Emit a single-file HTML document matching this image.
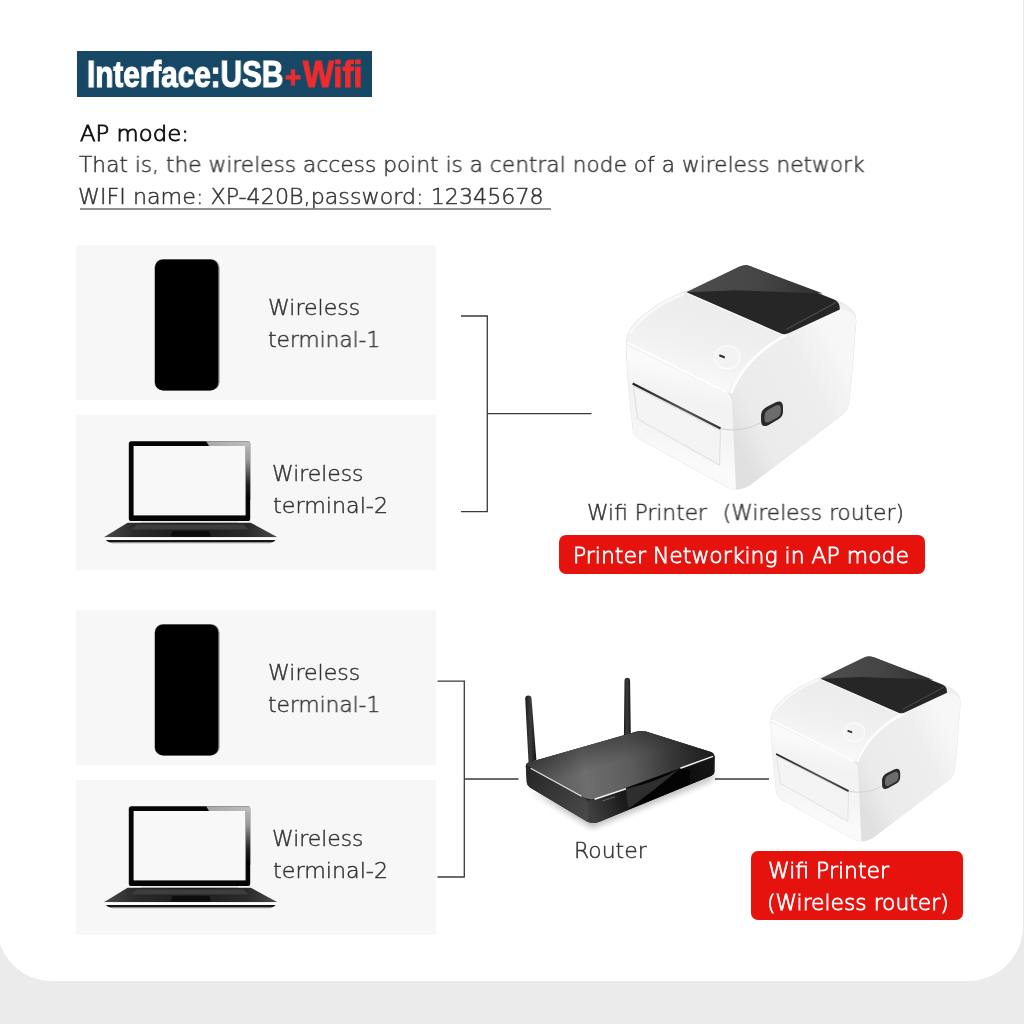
<!DOCTYPE html>
<html lang="en">
<head>
<meta charset="utf-8">
<title>Interface: USB + Wifi</title>
<style>
html,body{margin:0;padding:0;}
body{width:1024px;height:1024px;overflow:hidden;background:#ebebeb;font-family:"DejaVu Sans","Liberation Sans",sans-serif;}
#page{position:relative;width:1024px;height:1024px;overflow:hidden;background:#ebebeb;}
#card{position:absolute;left:-3px;top:-60px;width:1025.5px;height:1041px;background:#fff;border-radius:0 0 55px 55px;}
#edge{position:absolute;left:1022.6px;top:25px;width:2px;height:910px;background:#ebebeb;}
.abs{position:absolute;}
.t{will-change:transform;position:absolute;white-space:nowrap;line-height:1;transform-origin:0 0;font-weight:200;}
#banner{position:absolute;left:77px;top:51px;width:295px;height:46px;background:#164866;}
.box{position:absolute;left:76px;width:360px;height:155px;background:#f7f7f7;}
.red{position:absolute;background:#e6120e;border-radius:7px;}
svg{position:absolute;left:0;top:0;overflow:visible;}
</style>
</head>
<body>
<div id="page">
<div id="card"></div>
<div id="edge"></div>

<div id="banner"></div>

<div class="abs" id="ul" style="left:80px;top:207.5px;width:471.3px;height:2px;background:#909090;"></div>

<div class="box" style="top:245px"></div>
<div class="box" style="top:415px"></div>
<div class="box" style="top:610px"></div>
<div class="box" style="top:780px"></div>


<div class="red" style="left:558.5px;top:535px;width:366.5px;height:38.5px;"></div>

<div class="red" style="left:750.5px;top:850.5px;width:212px;height:69px;"></div>

<div class="t" id="t1" style="left:86.86px;top:57.14px;font-size:36px;font-family:'Liberation Sans',sans-serif;font-weight:bold;color:#fff;-webkit-text-stroke:1.2px #fff;transform:scaleX(0.8247);">Interface:USB</div>
<div class="t" id="t1b" style="left:285.32px;top:57.14px;font-size:36px;font-family:'Liberation Sans',sans-serif;font-weight:bold;color:#ee2b2d;-webkit-text-stroke:1.2px #ee2b2d;transform:scaleX(0.9091);"><span style="font-size:.84em;margin-right:2px">+</span>Wifi</div>
<div class="t" id="t2" style="left:79.60px;top:122.81px;font-size:21.5px;font-family:'DejaVu Sans','Liberation Sans',sans-serif;font-weight:200;color:#111;-webkit-text-stroke:0.85px #111;transform:scaleX(1.0600);">AP mode:</div>
<div class="t" id="t3" style="left:79.35px;top:154.16px;font-size:21.8px;font-family:'DejaVu Sans','Liberation Sans',sans-serif;font-weight:200;-webkit-text-stroke:0.45px #333;color:#333;transform:scaleX(0.9965);">That is, the wireless access point is a central node of a wireless network</div>
<div class="t" id="t4" style="left:78.33px;top:186.16px;font-size:21.8px;font-family:'DejaVu Sans','Liberation Sans',sans-serif;font-weight:200;-webkit-text-stroke:0.45px #333;color:#333;transform:scaleX(1.0193);">WIFI name: XP-420B,password: 12345678</div>
<div class="t" id="w1a" style="left:267.74px;top:297.36px;font-size:21.8px;font-family:'DejaVu Sans','Liberation Sans',sans-serif;font-weight:200;-webkit-text-stroke:0.45px #333;color:#333;transform:scaleX(1.0113);">Wireless</div>
<div class="t" id="w1b" style="left:268.35px;top:328.86px;font-size:21.8px;font-family:'DejaVu Sans','Liberation Sans',sans-serif;font-weight:200;-webkit-text-stroke:0.45px #333;color:#333;transform:scaleX(0.9950);">terminal-1</div>
<div class="t" id="w2a" style="left:272.15px;top:462.56px;font-size:21.8px;font-family:'DejaVu Sans','Liberation Sans',sans-serif;font-weight:200;-webkit-text-stroke:0.45px #333;color:#333;transform:scaleX(1.0034);">Wireless</div>
<div class="t" id="w2b" style="left:272.64px;top:494.56px;font-size:21.8px;font-family:'DejaVu Sans','Liberation Sans',sans-serif;font-weight:200;-webkit-text-stroke:0.45px #333;color:#333;transform:scaleX(1.0200);">terminal-2</div>
<div class="t" id="w3a" style="left:267.74px;top:662.36px;font-size:21.8px;font-family:'DejaVu Sans','Liberation Sans',sans-serif;font-weight:200;-webkit-text-stroke:0.45px #333;color:#333;transform:scaleX(1.0113);">Wireless</div>
<div class="t" id="w3b" style="left:268.35px;top:693.86px;font-size:21.8px;font-family:'DejaVu Sans','Liberation Sans',sans-serif;font-weight:200;-webkit-text-stroke:0.45px #333;color:#333;transform:scaleX(0.9950);">terminal-1</div>
<div class="t" id="w4a" style="left:272.15px;top:827.56px;font-size:21.8px;font-family:'DejaVu Sans','Liberation Sans',sans-serif;font-weight:200;-webkit-text-stroke:0.45px #333;color:#333;transform:scaleX(1.0034);">Wireless</div>
<div class="t" id="w4b" style="left:272.64px;top:859.56px;font-size:21.8px;font-family:'DejaVu Sans','Liberation Sans',sans-serif;font-weight:200;-webkit-text-stroke:0.45px #333;color:#333;transform:scaleX(1.0200);">terminal-2</div>
<div class="t" id="p1" style="left:587.15px;top:502.06px;font-size:21.8px;font-family:'DejaVu Sans','Liberation Sans',sans-serif;font-weight:200;-webkit-text-stroke:0.45px #333;color:#333;transform:scaleX(0.9967);">Wifi Printer<span style="margin-left:9px"> </span>(Wireless router)</div>
<div class="t" id="r1" style="left:572.84px;top:544.56px;font-size:21.8px;font-family:'DejaVu Sans','Liberation Sans',sans-serif;font-weight:200;color:#fff;-webkit-text-stroke:0.8px #fff;transform:scaleX(1.0061);">Printer Networking in AP mode</div>
<div class="t" id="rt" style="left:574.08px;top:840.36px;font-size:21.8px;font-family:'DejaVu Sans','Liberation Sans',sans-serif;font-weight:200;-webkit-text-stroke:0.45px #333;color:#333;transform:scaleX(1.0071);">Router</div>
<div class="t" id="r2a" style="left:768.09px;top:860.36px;font-size:21.8px;font-family:'DejaVu Sans','Liberation Sans',sans-serif;font-weight:200;color:#fff;-webkit-text-stroke:0.8px #fff;transform:scaleX(1.0063);">Wifi Printer</div>
<div class="t" id="r2b" style="left:767.10px;top:891.56px;font-size:21.8px;font-family:'DejaVu Sans','Liberation Sans',sans-serif;font-weight:200;color:#fff;-webkit-text-stroke:0.8px #fff;transform:scaleX(0.9986);">(Wireless router)</div>
<svg id="art" width="1024" height="1024" viewBox="0 0 1024 1024">
<defs>
<linearGradient id="gTop" gradientUnits="userSpaceOnUse" x1="700" y1="300" x2="680" y2="375"><stop offset="0" stop-color="#ececec"/><stop offset="0.6" stop-color="#f1f1f1"/><stop offset="1" stop-color="#f8f8f8"/></linearGradient>
<linearGradient id="gFront" gradientUnits="userSpaceOnUse" x1="690" y1="370" x2="670" y2="460"><stop offset="0" stop-color="#fafafa"/><stop offset="0.35" stop-color="#f2f2f2"/><stop offset="0.7" stop-color="#f5f5f5"/><stop offset="1" stop-color="#fafafa"/></linearGradient>
<linearGradient id="gSide" gradientUnits="userSpaceOnUse" x1="735" y1="440" x2="855" y2="380"><stop offset="0" stop-color="#e0e0e0"/><stop offset="0.2" stop-color="#ebebeb"/><stop offset="0.7" stop-color="#eeeeee"/><stop offset="1" stop-color="#f7f7f7"/></linearGradient>
<linearGradient id="gPanel" gradientUnits="userSpaceOnUse" x1="700" y1="280" x2="820" y2="295"><stop offset="0" stop-color="#4c4c4c"/><stop offset="0.5" stop-color="#454545"/><stop offset="1" stop-color="#303030"/></linearGradient>
<linearGradient id="gSlot" x1="0" y1="0" x2="1" y2="0"><stop offset="0" stop-color="#222"/><stop offset="0.6" stop-color="#555"/><stop offset="1" stop-color="#333"/></linearGradient>

<linearGradient id="gBezR" x1="0" y1="0" x2="0" y2="1"><stop offset="0" stop-color="#b4b4b4"/><stop offset="0.25" stop-color="#9a9a9a"/><stop offset="0.7" stop-color="#222"/><stop offset="1" stop-color="#000"/></linearGradient>
<linearGradient id="gBezT" x1="0" y1="0" x2="1" y2="0"><stop offset="0" stop-color="#a8a8a8"/><stop offset="1" stop-color="#bdbdbd"/></linearGradient>
<linearGradient id="gBase" x1="0" y1="0" x2="1" y2="0"><stop offset="0" stop-color="#4a4a4a"/><stop offset="0.18" stop-color="#2a2a2a"/><stop offset="0.5" stop-color="#1c1c1c"/><stop offset="0.82" stop-color="#2a2a2a"/><stop offset="1" stop-color="#4a4a4a"/></linearGradient>

<linearGradient id="gRTop" gradientUnits="userSpaceOnUse" x1="530" y1="775" x2="712" y2="750"><stop offset="0" stop-color="#505050"/><stop offset="0.3" stop-color="#6e6e6e"/><stop offset="0.55" stop-color="#5c5c5c"/><stop offset="0.8" stop-color="#343434"/><stop offset="1" stop-color="#1c1c1c"/></linearGradient><linearGradient id="gRTop2" gradientUnits="userSpaceOnUse" x1="600" y1="740" x2="608" y2="765"><stop offset="0" stop-color="#000" stop-opacity=".3"/><stop offset="1" stop-color="#000" stop-opacity="0"/></linearGradient>
<linearGradient id="gRLeft" gradientUnits="userSpaceOnUse" x1="526" y1="770" x2="590" y2="815"><stop offset="0" stop-color="#262626"/><stop offset="0.6" stop-color="#3c3c3c"/><stop offset="1" stop-color="#4a4a4a"/></linearGradient>
<linearGradient id="gRFront" gradientUnits="userSpaceOnUse" x1="590" y1="810" x2="715" y2="765"><stop offset="0" stop-color="#3e3e3e"/><stop offset="0.25" stop-color="#1c1c1c"/><stop offset="0.5" stop-color="#050505"/><stop offset="1" stop-color="#161616"/></linearGradient>
<linearGradient id="gAnt" x1="0" y1="0" x2="1" y2="0"><stop offset="0" stop-color="#1a1a1a"/><stop offset="0.45" stop-color="#3c3c3c"/><stop offset="1" stop-color="#151515"/></linearGradient>
<radialGradient id="gShadow" cx="0.5" cy="0.5" r="0.5"><stop offset="0" stop-color="#000" stop-opacity=".35"/><stop offset="0.6" stop-color="#000" stop-opacity=".12"/><stop offset="1" stop-color="#000" stop-opacity="0"/></radialGradient>
<filter id="blur2" x="-20%" y="-20%" width="140%" height="140%"><feGaussianBlur stdDeviation="3"/></filter>
<g id="laptop">
 <rect x="128.8" y="441.2" width="121.4" height="79.8" rx="2.6" fill="#050505"/>
 <path d="M206.2 441.2 H247.6 Q250.2 441.2 250.2 443.8 V446 H209 Z" fill="url(#gBezT)"/>
 <path d="M245.6 446 H250.2 V500 H245.6 Z" fill="url(#gBezR)"/>
 <rect x="133.6" y="446" width="112" height="69.4" fill="#f8f8f8"/>
 <path d="M141 521.6 H238 V523 H141 Z" fill="#d8d8d8"/>
 <path d="M127.6 522.8 H250.8 L277.6 537.2 H103.8 Z" fill="url(#gBase)"/>
 <path d="M136.6 524.6 H243.6 L248.6 529.6 H131.6 Z" fill="#3d3d3d"/>
 <path d="M172.5 531 H209 L211 536.4 H170.5 Z" fill="#0c0c0c"/>
 <path d="M103.8 537.2 H277.6 L275.5 539.8 H106 Z" fill="#fdfdfd"/>
 <path d="M106 539.9 H275.5 Q274 542.6 268 542.6 H113 Q108 542.6 106 539.9 Z" fill="#161616"/>
 <path d="M112 543.4 H270" stroke="#cfcfcf" stroke-width="1.2" opacity=".7"/>
</g>
<g id="printer">
 <!-- body silhouette -->
 <path d="M626.3 346 Q626 335 632 326.5 Q641 315.5 659.5 303.5 Q675 294.5 690 290 L738 267 Q745 264 752 267 L840 302 Q856 309 856 320 L851.6 376 L848.6 404 Q848 410 843 414 L750 485 Q738 492 727 487 L638 438 Q633.5 435 633 430 L627.8 378 Z" fill="#efefef" stroke="#e4e4e4" stroke-width="1"/>
 <!-- right side -->
 <path d="M729 394 Q740 360 785 334 L840 309 Q856 312 856 320 L851.6 376 L848.6 404 Q848 410 843 414 L750 485 Q741 490 735 489 Z" fill="url(#gSide)"/>
 <!-- front face -->
 <path d="M626.4 345 L727 394 Q732 396 732 402 L736 489 Q731 489 727 487 L638 438 Q633.5 435 633 430 L627.8 378 Z" fill="url(#gFront)"/>
 <!-- top face -->
 <path d="M627 341 Q627 335 632.5 327 Q641 316 659.5 304 Q675 295 686.6 292.3 L785 333.5 Q745 355 729 392 Z" fill="url(#gTop)"/>
 <path d="M627 342.5 L727 392.5" stroke="#fff" stroke-width="2.5" fill="none" opacity=".9"/>
 <path d="M731 393 Q745 357 786 335" stroke="#fff" stroke-width="3" fill="none" opacity=".9"/>
 <path d="M630 333 Q640 318 660 305.5 Q673 297.5 684 294" stroke="#fafafa" stroke-width="3" fill="none" opacity=".8"/>
 <path d="M686.6 293.2 L783 335" stroke="#fcfcfc" stroke-width="1" fill="none"/>
 <!-- door -->
 <path d="M633.5 386.5 L637.6 419 L719.6 465.2 L720.4 430.5 Z" fill="#f4f4f4" stroke="#dedede" stroke-width="1"/>
 <path d="M632.6 383.6 L720.6 428.6" stroke="url(#gSlot)" stroke-width="2.2" fill="none"/>
 <path d="M720.6 428.8 Q742 433 760 423" stroke="#cfcfcf" stroke-width="1" fill="none"/>
 <!-- side button -->
 <path d="M761 416.5 Q760.8 410 766.5 407 L776.3 402 Q782.6 399.6 783 406.5 L783 411.5 Q783 416.8 778.5 419.3 L768.2 425.2 Q761.4 428 761.1 421.5 Z" fill="#2a2a2a"/>
 <path d="M764.6 416 Q764.6 411.4 768.5 409.4 L775.8 405.6 Q780.6 403.8 780.8 408.4 L780.8 411.6 Q780.8 415.6 777.2 417.6 L769.6 421.8 Q764.8 423.8 764.6 419.6 Z" fill="#6c6c6c"/>
 <!-- power button -->
 <ellipse cx="727.5" cy="357.2" rx="12.5" ry="11.5" fill="#f3f3f3" stroke="#fcfcfc" stroke-width="1.3"/>
 <path d="M719.5 354.3 L725 356.3 L724.6 358.6 L719.1 356.6 Z" fill="#333"/>
 <!-- black panel -->
 <path d="M686.6 292.3 L739 267 Q745 264 751 266.5 L834 299.5 Q839 302 839.5 306 L839.8 309.5 L789 333 Q785 335 781 333.5 Z" fill="#262626"/>
 <path d="M686.6 292.3 L739 267 Q745 264 751 266.5 L823 293.5 L736 290.2 Z" fill="url(#gPanel)"/>
 <path d="M836 302.5 L786 329.5" stroke="#4a4a4a" stroke-width="1.2" fill="none"/>
</g>
</defs>

<!-- connectors -->
<g fill="none" stroke="#3a3a3a" stroke-width="1.3">
<path d="M461 316H487.3V511.7H461M487.3 413.7H591.5"/>
<path d="M437.5 681.2H464.3V877H437.5M464.3 779H518.5M715 779H769"/>
</g>

<!-- phones -->
<g id="phone1">
<rect x="154.4" y="259.2" width="65.2" height="131.3" rx="8.5" fill="#8c8c8c"/>
<rect x="155" y="259.4" width="63.3" height="131" rx="8" fill="#000"/>
</g>
<g transform="translate(0 365)">
<rect x="154.4" y="259.2" width="65.2" height="131.3" rx="8.5" fill="#8c8c8c"/>
<rect x="155" y="259.4" width="63.3" height="131" rx="8" fill="#000"/>
</g>


<!-- router -->
<g id="router">
 <path d="M530 790 L592 828 L712 780 L716 772 L600 815 Z" fill="#000" opacity=".28" filter="url(#blur2)"/>
 <!-- antennas -->
 <path d="M525.2 698.6 Q525.2 695.4 528.3 695.4 Q531.4 695.4 531.5 698.6 L536.4 760 L528.6 763.5 Z" fill="url(#gAnt)"/>
 <path d="M624.5 681 Q624.5 677.8 627.3 677.8 Q630.1 677.8 630.1 681 L630.8 736 L623.9 736 Z" fill="url(#gAnt)"/>
 <!-- body -->
 <path d="M525.8 766 Q525.6 763.6 528.5 762.6 L636 731.8 Q641 730.4 646 731.6 L711 752 Q714.6 753.4 714.6 757 L714.4 772 Q714.4 774.6 711.5 775.8 L600 821.6 Q593.5 824.4 587 821.6 L530 787.6 Q527 785.6 526.8 782.6 Z" fill="#1a1a1a"/>
 <!-- left face -->
 <path d="M525.8 766 L583 797 Q588 799.6 588 803 L588 822 Q587.4 822 587 821.6 L530 787.6 Q527 785.6 526.8 782.6 Z" fill="url(#gRLeft)"/>
 <!-- front-right face -->
 <path d="M588 800 Q592 800.5 596 799 L714.6 756 L714.4 772 Q714.4 774.6 711.5 775.8 L600 821.6 Q593.5 824.4 588 822 Z" fill="url(#gRFront)"/>
 <!-- top face -->
 <path d="M526.2 765 Q525.6 763.6 528.5 762.6 L636 731.8 Q641 730.4 646 731.6 L711 752 Q714.8 753.6 713.4 756 L596 798.6 Q590 800.6 584 797.6 Z" fill="url(#gRTop)"/>
 <path d="M526.2 765 Q525.6 763.6 528.5 762.6 L636 731.8 Q641 730.4 646 731.6 L711 752 Q714.8 753.6 713.4 756 L596 798.6 Q590 800.6 584 797.6 Z" fill="url(#gRTop2)"/>
 <!-- fold -->
 <path d="M626.3 788.6 L680 768.6 L690 770 L690 784 L629 808.8 Z" fill="#040404"/>
 <path d="M626.3 788.6 Q655 783 680 768.6 Q655 790 628.8 808.8 Q626 800 626.3 788.6 Z" fill="#2e2e2e"/>
 <!-- highlights -->
 <path d="M530.6 768.2 L581.6 796.2" stroke="#e8e8e8" stroke-width="1.3" fill="none"/>
 <path d="M594.5 799.2 L626 788.8" stroke="#f2f2f2" stroke-width="1.5" fill="none"/>
 <path d="M680.4 768.2 L713 756.4" stroke="#f2f2f2" stroke-width="1.5" fill="none"/>
 <path d="M602.5 801 L615 796.8" stroke="#777" stroke-width="0.8" fill="none"/>
</g>
<use href="#laptop"/>
<use href="#laptop" transform="translate(0 365)"/>
<use href="#printer"/>
<use href="#printer" transform="translate(254.2 437.5) scale(0.825)"/>
</svg>

</div>
</body>
</html>
